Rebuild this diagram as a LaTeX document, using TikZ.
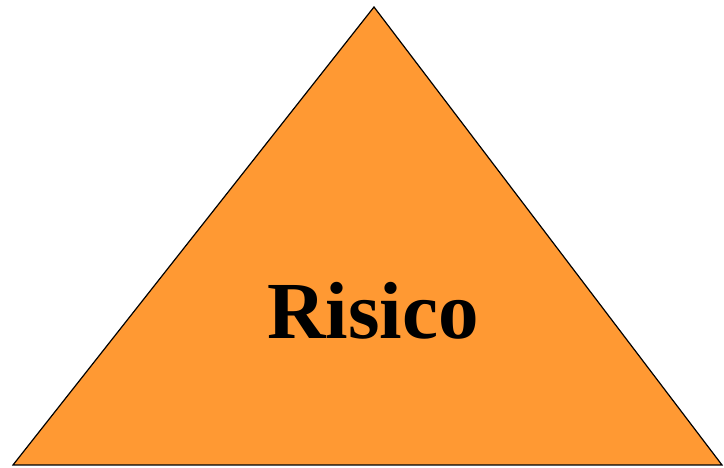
\documentclass[tikz,border=0pt]{standalone}
\usepackage{fontspec}
\setmainfont{Liberation Serif}
\definecolor{risicoorange}{RGB}{255,153,51}
\tikzset{
    every node/.style={font=\bfseries},
    risicoface/.style={fill=risicoorange, draw=black, line width=1.2pt, line join=miter},
    risicolabel/.style={font=\bfseries\fontsize{81}{88}\selectfont, inner sep=0pt}
}
\begin{document}
\begin{tikzpicture}[x=1pt, y=1pt]
\useasboundingbox (0,0) rectangle (724,468);

\coordinate (top) at (374,461);
\coordinate (left) at (13,3);
\coordinate (right) at (722,3);

\draw[risicoface] (left) -- (top) -- (right) -- cycle;

\node[risicolabel] (label) at (373,157) {Risico};

\end{tikzpicture}
\end{document}
